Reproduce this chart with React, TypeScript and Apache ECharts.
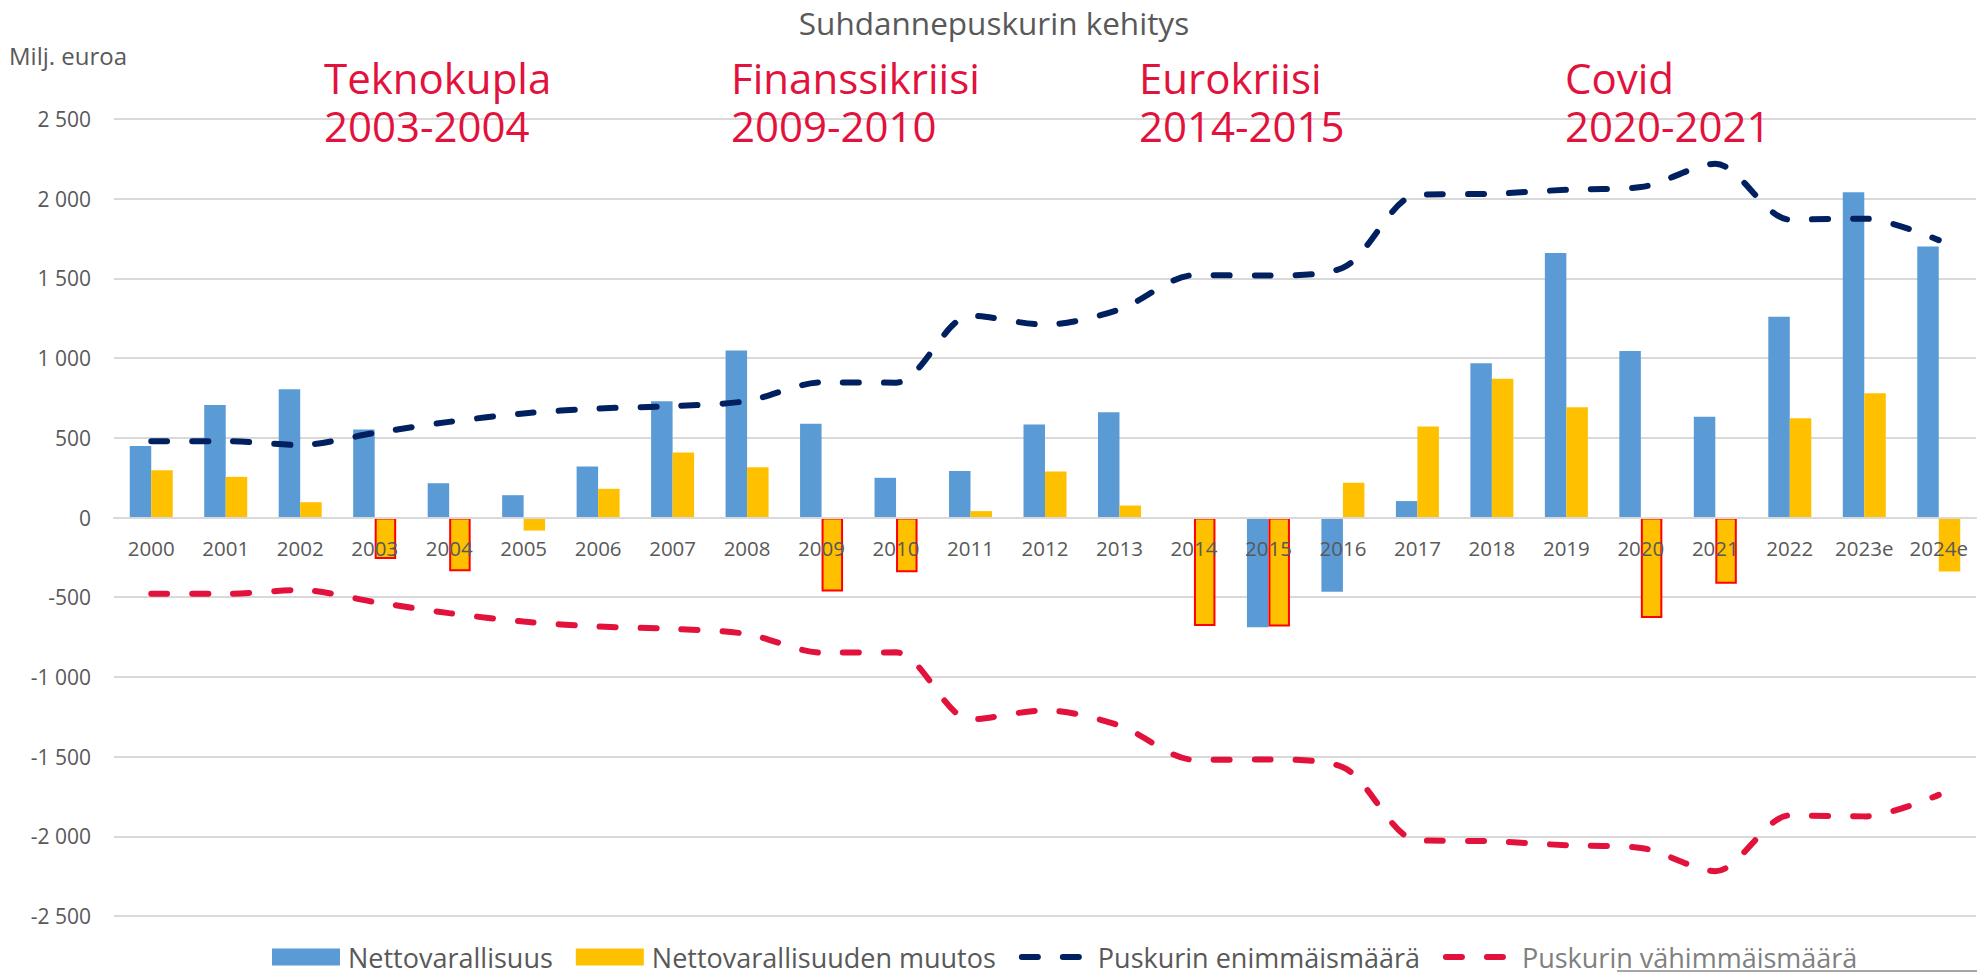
import React, { useEffect, useRef } from "react";
import * as echarts from "echarts";

const categories = ["2000", "2001", "2002", "2003", "2004", "2005", "2006", "2007", "2008", "2009", "2010", "2011", "2012", "2013", "2014", "2015", "2016", "2017", "2018", "2019", "2020", "2021", "2022", "2023e", "2024e"];

const netAssets = [448, 705, 805, 552, 215, 140, 320, 730, 1047, 588, 249, 291, 584, 661, -8, -688, -466, 103, 968, 1660, 1045, 632, 1260, 2040, 1700];

const netAssetsChange = [297, 255, 96, -261, -337, -82, 180, 408, 316, -464, -343, 40, 289, 75, -680, -684, 218, 571, 870, 692, -630, -416, 623, 780, -339];

const bufferMax = [479, 479, 455, 530, 600, 653, 684, 699, 731, 848, 846, 1266, 1210, 1305, 1520, 1518, 1567, 2025, 2031, 2056, 2073, 2219, 1869, 1875, 1740];

const bufferMin = [-479, -479, -455, -530, -600, -653, -684, -699, -731, -848, -846, -1266, -1210, -1305, -1520, -1518, -1567, -2025, -2031, -2056, -2073, -2219, -1869, -1875, -1740];

const crisisYears = ["2003", "2004", "2009", "2010", "2014", "2015", "2020", "2021"];

const annotations = [
  { line1: "Teknokupla", line2: "2003-2004", x: 324 },
  { line1: "Finanssikriisi", line2: "2009-2010", x: 731 },
  { line1: "Eurokriisi", line2: "2014-2015", x: 1139 },
  { line1: "Covid", line2: "2020-2021", x: 1565 },
];

const seriesNames = ["Nettovarallisuus", "Nettovarallisuuden muutos", "Puskurin enimmäismäärä", "Puskurin vähimmäismäärä"];

const FONT = "'Open Sans', 'Noto Sans', sans-serif";
const GRAY = "#595959";
const BLUE = "#5B9BD5";
const YELLOW = "#FFC000";
const NAVY = "#002060";
const RED = "#E2123C";

function fmt(v: number): string {
  const a = Math.abs(v);
  const s = a >= 1000 ? Math.floor(a / 1000) + " " + String(a % 1000).padStart(3, "0") : String(a);
  return (v < 0 ? "-" : "") + s;
}

export default function App() {
  const ref = useRef<HTMLDivElement>(null);
  useEffect(() => {
    if (!ref.current) return;
    const chart = echarts.init(ref.current, undefined, { renderer: "svg" });
    const graphics: any[] = [
      {
        type: "text",
        x: 994,
        y: 22,
        style: { text: "Suhdannepuskurin kehitys", font: `31.5px ${FONT}`, fill: GRAY, textAlign: "center", textVerticalAlign: "middle" },
      },
      {
        type: "text",
        x: 9,
        y: 55,
        style: { text: "Milj. euroa", font: `24px ${FONT}`, fill: GRAY, textAlign: "left", textVerticalAlign: "middle" },
      },
      {
        type: "line",
        shape: { x1: 1617, y1: 971, x2: 1977, y2: 971 },
        style: { stroke: "#a6a6a6", lineWidth: 2 },
      },
    ];
    annotations.forEach((a) => {
      graphics.push({
        type: "text",
        x: a.x,
        y: 53,
        z: 10,
        style: {
          text: a.line1 + "\n" + a.line2,
          fontFamily: FONT,
          fontSize: 42,
          lineHeight: 48,
          fill: RED,
          textAlign: "left",
          textVerticalAlign: "top",
        },
      });
    });

    const lineStyleBase = { width: 6, type: [16, 25], cap: "round" };
    const hiddenSymbol = { opacity: 0, color: "rgba(0,0,0,0)", borderWidth: 0 };

    chart.setOption({
      animation: false,
      textStyle: { fontFamily: FONT },
      grid: { left: 114, right: 1, top: 119, bottom: 57, containLabel: false },
      legend: {
        left: 267,
        top: 938,
        itemWidth: 68,
        itemHeight: 17,
        itemGap: 23,
        lineStyle: { width: 6, cap: "round" },
        textStyle: { fontSize: 27, lineHeight: 28, color: GRAY, fontFamily: FONT, padding: [0, 0, 0, 3] },
        data: [
          { name: seriesNames[0], icon: "rect" },
          { name: seriesNames[1], icon: "rect" },
          { name: seriesNames[2], itemStyle: hiddenSymbol },
          { name: seriesNames[3], itemStyle: hiddenSymbol, textStyle: { color: "#808080" } },
        ],
      },
      xAxis: {
        type: "category",
        data: categories,
        offset: -398.5,
        z: 8,
        axisLine: { onZero: false, lineStyle: { color: "#d9d9d9", width: 2 } },
        axisTick: { show: false },
        axisLabel: { fontSize: 20.5, color: GRAY, margin: 20, interval: 0, fontFamily: FONT },
      },
      yAxis: {
        type: "value",
        min: -2500,
        max: 2500,
        interval: 500,
        axisLine: { show: false },
        axisTick: { show: false },
        splitLine: { lineStyle: { color: "#d9d9d9", width: 2 } },
        axisLabel: { fontSize: 21, color: GRAY, margin: 23, fontFamily: FONT, formatter: (v: number) => fmt(v) },
      },
      series: [
        {
          name: seriesNames[0],
          type: "bar",
          data: netAssets,
          barWidth: 21.5,
          barGap: "0%",
          itemStyle: { color: BLUE },
          z: 2,
        },
        {
          name: seriesNames[1],
          type: "bar",
          barWidth: 21.5,
          barGap: "0%",
          itemStyle: { color: YELLOW },
          data: netAssetsChange.map((v, i) =>
            crisisYears.includes(categories[i]) && v < 0
              ? { value: v, itemStyle: { color: YELLOW, borderColor: "#FF0000", borderWidth: 2 } }
              : v
          ),
          z: 2,
        },
        {
          name: seriesNames[2],
          type: "line",
          data: bufferMax,
          symbol: "none",
          smooth: 0.3,
          lineStyle: { ...lineStyleBase, color: NAVY },
          itemStyle: { color: NAVY },
          z: 5,
        },
        {
          name: seriesNames[3],
          type: "line",
          data: bufferMin,
          symbol: "none",
          smooth: 0.3,
          lineStyle: { ...lineStyleBase, color: RED },
          itemStyle: { color: RED },
          z: 5,
        },
      ],
      graphic: graphics,
    });
    return () => chart.dispose();
  }, []);
  return <div ref={ref} style={{ position: "fixed", left: 0, top: 0, width: 1977, height: 973, background: "#fff" }} />;
}
